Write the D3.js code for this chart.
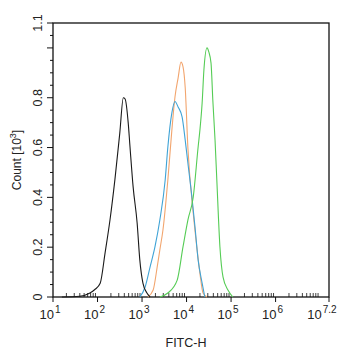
<!DOCTYPE html>
<html><head><meta charset="utf-8">
<script src="https://cdn.jsdelivr.net/npm/d3@7"></script>
<style>body{margin:0;background:#fff}svg{display:block}text{font-family:"Liberation Sans",Arial,sans-serif;fill:#222}</style>
</head><body><svg id="c" width="346" height="350"></svg>
<script>
// log10(FITC-H) positions and counts (x10^3)
const blackX = [1.2, 1.6, 1.83, 1.94, 2.06, 2.17, 2.28, 2.39, 2.5, 2.58, 2.62, 2.69, 2.73, 2.8, 2.89, 2.95, 3.02, 3.11, 3.18];
const blackY = [0, 0.003, 0.016, 0.03, 0.055, 0.177, 0.309, 0.47, 0.658, 0.8, 0.795, 0.698, 0.602, 0.442, 0.297, 0.149, 0.056, 0.016, 0];
const blueX = [2.95, 3.07, 3.18, 3.29, 3.4, 3.52, 3.58, 3.67, 3.74, 3.81, 3.9, 3.97, 4.03, 4.12, 4.19, 4.26, 4.35, 4.41];
const blueY = [0, 0.04, 0.12, 0.201, 0.309, 0.47, 0.602, 0.739, 0.785, 0.763, 0.723, 0.63, 0.538, 0.402, 0.281, 0.149, 0.056, 0];
const orangeX = [3.13, 3.25, 3.34, 3.4, 3.47, 3.58, 3.67, 3.74, 3.81, 3.875, 3.92, 3.97, 4.03, 4.15, 4.23, 4.3, 4.37, 4.46];
const orangeY = [0, 0.028, 0.12, 0.189, 0.269, 0.47, 0.67, 0.803, 0.879, 0.943, 0.925, 0.84, 0.6, 0.337, 0.201, 0.096, 0.016, 0];
const greenX = [3.4, 3.58, 3.79, 3.92, 4.03, 4.15, 4.26, 4.3, 4.35, 4.39, 4.46, 4.5, 4.55, 4.59, 4.64, 4.68, 4.75, 4.82, 4.93, 5.04];
const greenY = [0, 0.016, 0.068, 0.201, 0.309, 0.401, 0.602, 0.67, 0.779, 0.911, 1.0, 0.984, 0.939, 0.791, 0.63, 0.47, 0.201, 0.08, 0.028, 0];
const seriesColors = ["#1a1a1a", "#3fa3d6", "#f2a56e", "#55cc55"];
const xTickExps = ["1", "2", "3", "4", "5", "6", "7.2"];
const yTickLabels = ["0", "0.2", "0.4", "0.6", "0.8", "1.1"];

const svg = d3.select("#c");
const L = 53, R = 329, T = 23, B = 297;
const x = d3.scaleLinear().domain([1, 7.2]).range([L, R]);
const y = d3.scaleLinear().domain([0, 1.1]).range([B, T]);

// frame
svg.append("rect").attr("x", L).attr("y", T).attr("width", R - L).attr("height", B - T)
  .attr("fill", "none").attr("stroke", "#111").attr("stroke-width", 1.3);

// y ticks
const yMinor = d3.range(0, 1.1001, 0.05);
svg.append("g").selectAll("line").data(yMinor).join("line")
  .attr("x1", L).attr("x2", d => L - (Math.abs(d * 5 - Math.round(d * 5)) < 1e-6 || Math.abs(d - 1.1) < 1e-6 ? 6 : 3))
  .attr("y1", d => y(d)).attr("y2", d => y(d)).attr("stroke", "#111").attr("stroke-width", 1);
svg.append("g").selectAll("text").data(yTickLabels).join("text")
  .attr("transform", d => `translate(${L - 11},${y(+d)}) rotate(-90)`)
  .attr("text-anchor", "middle").attr("font-size", 12.5).text(d => d);
svg.append("text").attr("transform", `translate(21,${(T + B) / 2}) rotate(-90)`)
  .attr("text-anchor", "middle").attr("font-size", 12)
  .call(t => { t.append("tspan").text("Count [10"); t.append("tspan").attr("dy", -5).attr("font-size", 9).text("3"); t.append("tspan").attr("dy", 5).text("]"); });

// x ticks
const xMajor = xTickExps.map(Number);
svg.append("g").selectAll("line").data(xMajor).join("line")
  .attr("x1", d => x(d)).attr("x2", d => x(d)).attr("y1", B).attr("y2", B + 5)
  .attr("stroke", "#111").attr("stroke-width", 1);
const xMinor = [];
for (let e = 1; e < 7.2; e++) for (let k = 2; k <= 9; k++) { const v = e + Math.log10(k); if (v < 7.2) xMinor.push(v); }
svg.append("g").selectAll("line").data(xMinor).join("line")
  .attr("x1", d => x(d)).attr("x2", d => x(d)).attr("y1", B).attr("y2", B - 4)
  .attr("stroke", "#111").attr("stroke-width", 0.8);
const xl = svg.append("g").selectAll("text").data(xTickExps).join("text")
  .attr("x", d => x(+d) + (d === "7.2" ? -7 : -3)).attr("y", 319).attr("text-anchor", "middle").attr("font-size", 13);
xl.append("tspan").text("10");
xl.append("tspan").attr("dy", -6).attr("dx", 1).attr("font-size", 10).text(d => d);
svg.append("text").attr("x", 186).attr("y", 347).attr("text-anchor", "middle").attr("font-size", 12.5).text("FITC-H");

// curves
const line = d3.line().x(d => x(d[0])).y(d => y(d[1])).curve(d3.curveMonotoneX);
const series = [[blackX, blackY], [blueX, blueY], [orangeX, orangeY], [greenX, greenY]];
const drawOrder = [2, 1, 3, 0];
drawOrder.forEach(i => {
  const [xs, ys] = series[i];
  svg.append("path").datum(xs.map((v, j) => [v, ys[j]])).attr("d", line)
    .attr("fill", "none").attr("stroke", seriesColors[i]).attr("stroke-width", 1.1);
});
</script></body></html>
